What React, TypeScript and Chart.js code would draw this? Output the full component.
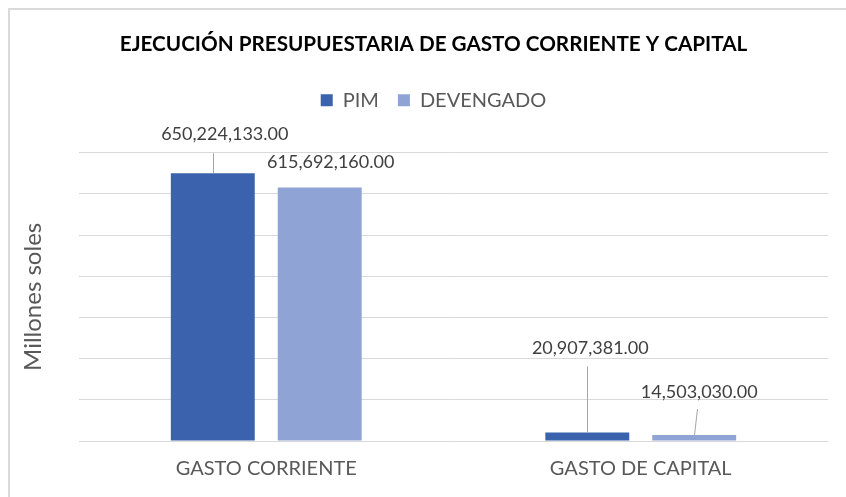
import React, { useEffect, useRef } from "react";
import { Chart, registerables } from "chart.js";

Chart.register(...registerables);

const categories = ["GASTO CORRIENTE", "GASTO DE CAPITAL"];
const pimValues = [650224133.0, 20907381.0];
const devengadoValues = [615692160.0, 14503030.0];
const seriesNames = ["PIM", "DEVENGADO"];
const chartTitle = "EJECUCIÓN PRESUPUESTARIA DE GASTO CORRIENTE Y CAPITAL";
const yAxisTitle = "Millones soles";

// label placement relative to the bar top (style only), [dataIndex][datasetIndex]
const labelPlacement = [
  [
    { dx: 12, dy: -39, line: { x2: 0, y2: -20 } },
    { dx: 11, dy: -25, line: null },
  ],
  [
    { dx: 3, dy: -84, line: { x2: 0, y2: -66 } },
    { dx: 5, dy: -43, line: { x2: 3, y2: -26 } },
  ],
];

const FONT = "Lato, 'Open Sans', sans-serif";

const fmt = (v: number) =>
  v.toLocaleString("en-US", { minimumFractionDigits: 2, maximumFractionDigits: 2 });

const borderPlugin = {
  id: "frameBorder",
  beforeDraw(chart: any) {
    const ctx = chart.ctx;
    ctx.save();
    ctx.fillStyle = "#ffffff";
    ctx.fillRect(0, 0, chart.width, chart.height);
    ctx.strokeStyle = "#d9d9d9";
    ctx.lineWidth = 2;
    ctx.strokeRect(9, 9, chart.width + 20, chart.height + 20);
    ctx.restore();
  },
};

const labelPlugin = {
  id: "barValueLabels",
  afterDatasetsDraw(chart: any) {
    const ctx = chart.ctx;
    ctx.save();
    chart.data.datasets.forEach((ds: any, di: number) => {
      const meta = chart.getDatasetMeta(di);
      meta.data.forEach((bar: any, i: number) => {
        const p = labelPlacement[i][di];
        const x = bar.x;
        const y = bar.y;
        if (p.line) {
          ctx.strokeStyle = "#a6a6a6";
          ctx.lineWidth = 1;
          ctx.beginPath();
          ctx.moveTo(Math.round(x) + 0.5, y);
          ctx.lineTo(Math.round(x + p.line.x2) + 0.5, y + p.line.y2);
          ctx.stroke();
        }
        ctx.fillStyle = "#404040";
        ctx.font = `18px ${FONT}`;
        ctx.textAlign = "center";
        ctx.textBaseline = "middle";
        ctx.fillText(fmt(ds.data[i]), x + p.dx, y + p.dy);
      });
    });
    ctx.restore();
  },
};

export default function App() {
  const ref = useRef<HTMLCanvasElement | null>(null);
  useEffect(() => {
    document.body.style.margin = "0";
    const canvas = ref.current!;
    const chart = new Chart(canvas, {
      type: "bar",
      data: {
        labels: categories,
        datasets: [
          {
            label: seriesNames[0],
            data: pimValues,
            backgroundColor: "#3b63ad",
            barPercentage: 0.785,
            categoryPercentage: 0.571,
            yAxisID: "y",
          },
          {
            label: seriesNames[1],
            data: devengadoValues,
            backgroundColor: "#8fa3d4",
            barPercentage: 0.785,
            categoryPercentage: 0.571,
            yAxisID: "y",
          },
        ],
      },
      options: {
        responsive: false,
        animation: false,
        layout: { padding: { left: 21, right: 0, top: 0, bottom: 0 } },
        plugins: {
          title: {
            display: true,
            text: chartTitle,
            color: "#000000",
            font: { family: FONT, size: 20.7, weight: "bold" },
            padding: { top: 31.6, bottom: 14.7 },
          },
          subtitle: {
            display: true,
            text: "",
            weight: 500,
            font: { size: 1 },
            padding: { top: 0, bottom: 31.4 },
          },
          legend: {
            display: true,
            labels: {
              color: "#595959",
              font: { family: FONT, size: 20 },
              boxWidth: 12,
              boxHeight: 12,
              padding: 19,
            },
          },
          tooltip: { enabled: false },
        },
        scales: {
          x: {
            grid: { display: false, drawTicks: false },
            border: { display: false },
            ticks: {
              color: "#595959",
              font: { family: FONT, size: 20 },
              padding: 16,
            },
          },
          y: {
            min: 0,
            max: 700000000,
            ticks: { display: false, stepSize: 100000000 },
            grid: { color: "#d9d9d9", lineWidth: 1, drawTicks: false },
            border: { display: false },
            title: {
              display: true,
              text: yAxisTitle,
              color: "#595959",
              font: { family: FONT, size: 24 },
              padding: { top: -2.4, bottom: 31.6 },
            },
          },
          yRightSpace: {
            position: "right",
            display: true,
            ticks: { display: false },
            grid: { display: false, drawTicks: false },
            border: { display: false },
            title: {
              display: true,
              text: "",
              font: { size: 1 },
              padding: { top: 0, bottom: 16.8 },
            },
          },
        },
      },
      plugins: [borderPlugin, labelPlugin],
    });
    return () => chart.destroy();
  }, []);
  return (
    <div style={{ width: 846, height: 497 }}>
      <canvas ref={ref} width={846} height={497} />
    </div>
  );
}
